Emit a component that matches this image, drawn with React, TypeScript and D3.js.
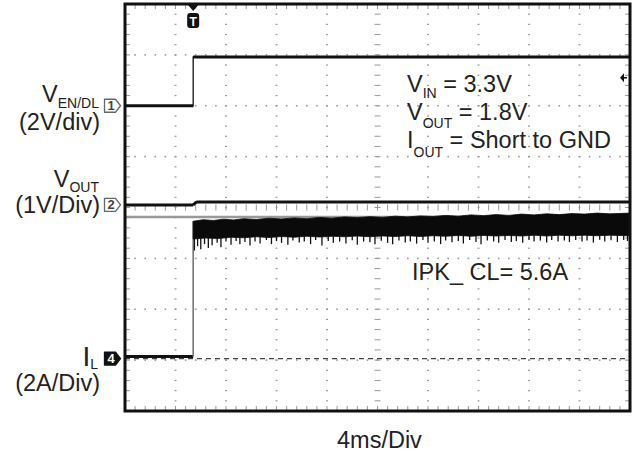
import React from 'react';
import * as d3 from 'd3';

const W = 635;
const H = 453;

// Time axis in ms relative to trigger (4 ms/div, 10 div)
const timeDomain: [number, number] = [-5.4, 34.6];
const divDomain: [number, number] = [-4, 4];

// Channel 1: V_EN/DL (2 V/div), offset +2 div
const enTime = [-5.4, 0, 0, 34.6];
const enVolt = [0, 0, 1.92, 1.92];
const enOffsetDiv = 2.0;
const enVoltsPerDiv = 2;

// Channel 2: V_OUT (1 V/div)
const voutTime = [-5.4, 0, 0.25, 34.6];
const voutVolt = [0, 0, 0.06, 0.06];
const voutOffsetDiv = 0.05;
const voutVoltsPerDiv = 1;

// Reference gray level just under V_OUT (divisions)
const refLevelDiv = -0.187;

// Channel 4: I_L (2 A/div)
const ilOffsetDiv = -2.97;
const ilAmpsPerDiv = 2;
const ilBeforeTime = [-5.4, 0];
const ilBeforeAmp = [0.08, 0.08];
const ilStepTime = 0;
const ilStepTop = 5.4;

// upper envelope of current-limit ripple [ms, A]
const ilUpper: [number, number][] = [
  [0, 5.4], [0.8, 5.46], [1.6, 5.43], [2.4, 5.48], [3.2, 5.45], [4.0, 5.5], [5.0, 5.47], [6.0, 5.52],
  [7.0, 5.49], [8.0, 5.53], [9.0, 5.5], [10.0, 5.55], [11.0, 5.52], [12.0, 5.57], [13.0, 5.54], [14.0, 5.58],
  [15.0, 5.55], [16.0, 5.6], [17.0, 5.57], [18.0, 5.61], [19.0, 5.59], [20.0, 5.63], [21.0, 5.6], [22.0, 5.65],
  [23.0, 5.62], [24.0, 5.66], [25.0, 5.63], [26.0, 5.68], [27.0, 5.65], [28.0, 5.69], [29.0, 5.66], [30.0, 5.7],
  [31.0, 5.68], [32.0, 5.72], [33.0, 5.69], [34.6, 5.72],
];
// solid lower edge of the ripple band [ms, A]
const ilLower: [number, number][] = [
  [0, 4.7], [1.0, 4.74], [2.0, 4.72], [3.0, 4.77], [4.0, 4.75], [5.0, 4.79], [6.0, 4.76], [7.0, 4.8],
  [8.0, 4.77], [9.0, 4.81], [10.0, 4.78], [11.0, 4.81], [12.0, 4.79], [13.0, 4.82], [14.0, 4.79], [15.0, 4.82],
  [16.0, 4.8], [17.0, 4.83], [18.0, 4.8], [19.0, 4.83], [20.0, 4.81], [21.0, 4.84], [22.0, 4.81], [23.0, 4.84],
  [24.0, 4.82], [25.0, 4.84], [26.0, 4.82], [27.0, 4.85], [28.0, 4.82], [29.0, 4.85], [30.0, 4.83], [31.0, 4.85],
  [32.0, 4.83], [33.0, 4.85], [34.6, 4.83],
];
// downward ripple spikes below the band [ms, A]
const ilSpikes: [number, number][] = [
  [0.1, 4.25], [0.35, 4.42], [0.6, 4.3], [0.9, 4.5], [1.2, 4.35], [1.5, 4.46], [1.9, 4.55], [2.2, 4.38],
  [2.6, 4.6], [3.0, 4.48], [3.4, 4.62], [3.7, 4.5], [4.1, 4.58], [4.5, 4.45], [4.9, 4.6], [5.3, 4.52],
  [5.8, 4.66], [6.2, 4.5], [6.6, 4.62], [7.0, 4.55], [7.5, 4.48], [7.9, 4.64], [8.4, 4.56], [8.8, 4.6],
  [9.3, 4.5], [9.7, 4.66], [10.2, 4.45], [10.7, 4.62], [11.1, 4.55], [11.6, 4.6], [12.1, 4.52], [12.6, 4.65],
  [13.0, 4.48], [13.5, 4.6], [14.0, 4.57], [14.4, 4.5], [14.9, 4.63], [15.4, 4.55], [15.8, 4.5], [16.3, 4.64],
  [16.8, 4.56], [17.2, 4.6], [17.7, 4.52], [18.2, 4.66], [18.6, 4.55], [19.1, 4.6], [19.6, 4.5], [20.0, 4.64],
  [20.5, 4.57], [21.0, 4.62], [21.4, 4.52], [21.9, 4.66], [22.4, 4.58], [22.8, 4.5], [23.3, 4.64], [23.8, 4.6],
  [24.2, 4.55], [24.7, 4.66], [25.2, 4.58], [25.6, 4.62], [26.1, 4.55], [26.6, 4.66], [27.0, 4.6], [27.5, 4.64],
  [28.0, 4.56], [28.4, 4.66], [28.9, 4.6], [29.4, 4.64], [29.8, 4.58], [30.3, 4.66], [30.8, 4.6], [31.2, 4.64],
  [31.7, 4.56], [32.2, 4.67], [32.6, 4.6], [33.1, 4.65], [33.6, 4.58], [34.1, 4.66], [34.4, 4.62],
];

const trigLevelDiv = 2.55;

const FONT = "'Liberation Sans', Arial, Helvetica, sans-serif";

export default function App() {
  const L = 125, R = 630, T = 4, B = 411;
  const x = d3.scaleLinear().domain(timeDomain).range([L, R]);
  const y = d3.scaleLinear().domain(divDomain).range([B, T]);
  const xd = d3.scaleLinear().domain([0, 10]).range([L, R]);

  const enY = (v: number) => y(enOffsetDiv + v / enVoltsPerDiv);
  const voY = (v: number) => y(voutOffsetDiv + v / voutVoltsPerDiv);
  const ilY = (a: number) => y(ilOffsetDiv + a / ilAmpsPerDiv);

  const enPts = enTime.map((t, i) => [x(t), enY(enVolt[i])] as [number, number]);
  const voPts = voutTime.map((t, i) => [x(t), voY(voutVolt[i])] as [number, number]);
  const ilPts = ilBeforeTime.map((t, i) => [x(t), ilY(ilBeforeAmp[i])] as [number, number]);

  const line = d3.line();
  const horizSegs = (pts: [number, number][]) => {
    const out: [number, number][][] = [];
    for (let i = 0; i < pts.length - 1; i++) {
      if (Math.abs(pts[i][0] - pts[i + 1][0]) > 0.5) out.push([pts[i], pts[i + 1]]);
    }
    return out;
  };

  const bandPoly: [number, number][] = [
    ...ilUpper.map(([t, a]) => [x(t), ilY(a)] as [number, number]),
    ...ilLower.slice().reverse().map(([t, a]) => [x(t), ilY(a)] as [number, number]),
  ];
  const lowerAt = (t: number) => {
    const i = d3.bisector((d: [number, number]) => d[0]).left(ilLower, t);
    if (i <= 0) return ilLower[0][1];
    if (i >= ilLower.length) return ilLower[ilLower.length - 1][1];
    const a = ilLower[i - 1], b = ilLower[i];
    return a[1] + ((t - a[0]) / (b[0] - a[0])) * (b[1] - a[1]);
  };

  // grid
  const gridColor = '#9a9a9a';
  const minorX = d3.range(0, 51).map((i) => i / 5);
  const minorY = d3.range(-20, 21).map((i) => i / 5);
  const dots: JSX.Element[] = [];
  [1, 2, 3, 4, 6, 7, 8, 9].forEach((gx) => {
    minorY.forEach((my, k) => {
      dots.push(<rect key={`v${gx}-${k}`} x={xd(gx) - 1} y={y(my) - 0.6} width={2} height={1.2} fill={gridColor} />);
    });
  });
  [-3, -2, -1, 1, 2, 3].forEach((gy) => {
    minorX.forEach((mx, k) => {
      dots.push(<rect key={`h${gy}-${k}`} x={xd(mx) - 0.8} y={y(gy) - 0.8} width={1.6} height={1.6} fill={gridColor} />);
    });
  });
  const ticks: JSX.Element[] = [];
  minorX.forEach((mx, k) => {
    ticks.push(<line key={`ch${k}`} x1={xd(mx)} x2={xd(mx)} y1={y(0) - 3} y2={y(0) + 3} stroke={gridColor} strokeWidth={1} />);
    ticks.push(<line key={`cb${k}`} x1={xd(mx)} x2={xd(mx)} y1={B} y2={B - 5} stroke={gridColor} strokeWidth={1} />);
    ticks.push(<line key={`ct${k}`} x1={xd(mx)} x2={xd(mx)} y1={T} y2={T + 5} stroke={gridColor} strokeWidth={1} />);
  });
  minorY.forEach((my, k) => {
    ticks.push(<line key={`cv${k}`} x1={xd(5) - 3} x2={xd(5) + 3} y1={y(my)} y2={y(my)} stroke={gridColor} strokeWidth={1} />);
    ticks.push(<line key={`cl${k}`} x1={L} x2={L + 5} y1={y(my)} y2={y(my)} stroke={gridColor} strokeWidth={1} />);
    ticks.push(<line key={`cr${k}`} x1={R} x2={R - 5} y1={y(my)} y2={y(my)} stroke={gridColor} strokeWidth={1} />);
  });

  const flag = (cy: number, filled: boolean, label: string) => (
    <g>
      <path
        d={`M104.5,${cy - 6.5} h11 l5,6.5 l-5,6.5 h-11 z`}
        fill={filled ? '#111' : '#fff'}
        stroke={filled ? '#111' : '#666'}
        strokeWidth={1.3}
        strokeLinejoin="round"
      />
      <text x={111} y={cy + 4.5} fontSize={13} fontWeight="bold" textAnchor="middle" fill={filled ? '#fff' : '#444'} fontFamily={FONT}>
        {label}
      </text>
    </g>
  );

  const trigX = x(ilStepTime);
  const fs = 23.5;
  const sub = 14;

  return (
    <svg width={W} height={H} style={{ position: 'absolute', left: 0, top: 0, background: '#fff' }} fontFamily={FONT}>
      <rect x={0} y={0} width={W} height={H} fill="#fff" />
      {dots}
      {ticks}
      {/* I_L ground reference (dashed) */}
      <line x1={L} x2={R} y1={ilY(0)} y2={ilY(0)} stroke="#444" strokeWidth={1.2} strokeDasharray="5,4" />
      {/* gray reference level */}
      <line x1={L} x2={R} y1={y(refLevelDiv)} y2={y(refLevelDiv)} stroke="#999" strokeWidth={2.5} />

      {/* EN trace */}
      <path d={line(enPts) || ''} fill="none" stroke="#111" strokeWidth={1.3} />
      {horizSegs(enPts).map((s, i) => (
        <path key={`en${i}`} d={line(s) || ''} stroke="#111" strokeWidth={3} fill="none" />
      ))}
      {/* VOUT trace */}
      <path d={line(voPts) || ''} fill="none" stroke="#111" strokeWidth={1.3} />
      {horizSegs(voPts).map((s, i) => (
        <path key={`vo${i}`} d={line(s) || ''} stroke="#111" strokeWidth={3} fill="none" />
      ))}
      {/* IL trace */}
      {horizSegs(ilPts).map((s, i) => (
        <path key={`il${i}`} d={line(s) || ''} stroke="#111" strokeWidth={3} fill="none" />
      ))}
      <line x1={trigX} x2={trigX} y1={ilY(ilBeforeAmp[1])} y2={ilY(ilStepTop)} stroke="#777" strokeWidth={1.6} />
      <path d={line(bandPoly) + 'Z'} fill="#0a0a0a" stroke="#0a0a0a" strokeWidth={0.8} />
      {ilSpikes.map(([t, a], i) => (
        <line key={`sp${i}`} x1={x(t)} x2={x(t)} y1={ilY(lowerAt(t)) - 1} y2={ilY(a)} stroke="#111" strokeWidth={1.3} />
      ))}

      {/* frame */}
      <rect x={L} y={T} width={R - L} height={B - T} fill="none" stroke="#111" strokeWidth={3} />

      {/* trigger marker */}
      <path d={`M${trigX - 6},${T} L${trigX + 6},${T} L${trigX},${T + 7} Z`} fill="#111" />
      <rect x={trigX - 6} y={T + 9} width={12} height={15} rx={3} fill="#111" />
      <text x={trigX} y={T + 21.5} fontSize={12} fontWeight="bold" textAnchor="middle" fill="#fff">T</text>
      {/* trigger level marker */}
      <path d={`M${R - 10},${y(trigLevelDiv)} L${R - 6},${y(trigLevelDiv) - 4.5} L${R - 6},${y(trigLevelDiv) + 4.5} Z`} fill="#111" />
      <line x1={R - 6} x2={R - 3} y1={y(trigLevelDiv)} y2={y(trigLevelDiv)} stroke="#111" strokeWidth={1.5} />

      {/* channel markers */}
      {flag(enY(0), false, '1')}
      {flag(voY(0), false, '2')}
      {flag(ilY(0), true, '4')}

      {/* left labels */}
      <text x={99} y={102} textAnchor="end" fontSize={fs} fill="#222">
        V<tspan fontSize={sub} dy={6}>EN/DL</tspan>
      </text>
      <text x={100} y={130} textAnchor="end" fontSize={fs} fill="#222">(2V/div)</text>
      <text x={99} y={187} textAnchor="end" fontSize={fs} fill="#222">
        V<tspan fontSize={sub} dy={5}>OUT</tspan>
      </text>
      <text x={100} y={213} textAnchor="end" fontSize={fs} fill="#222">(1V/Div)</text>
      <text x={98} y={366} textAnchor="end" fontSize={28} fill="#222">
        I<tspan fontSize={sub} dy={3}>L</tspan>
      </text>
      <text x={100} y={391} textAnchor="end" fontSize={fs} fill="#222">(2A/Div)</text>

      {/* annotations */}
      <text x={407} y={92} fontSize={fs} fill="#222">
        V<tspan fontSize={sub} dy={6}>IN</tspan><tspan dy={-6}> = 3.3V</tspan>
      </text>
      <text x={407} y={120} fontSize={fs} fill="#222">
        V<tspan fontSize={sub} dy={8}>OUT</tspan><tspan dy={-8}> = 1.8V</tspan>
      </text>
      <text x={407} y={148} fontSize={fs} fill="#222">
        I<tspan fontSize={sub} dy={9}>OUT</tspan><tspan dy={-9}> = Short to GND</tspan>
      </text>
      <text x={412} y={280} fontSize={fs} fill="#222">IPK_ CL= 5.6A</text>
      <text x={337} y={448} fontSize={fs} fill="#222">4ms/Div</text>
    </svg>
  );
}
